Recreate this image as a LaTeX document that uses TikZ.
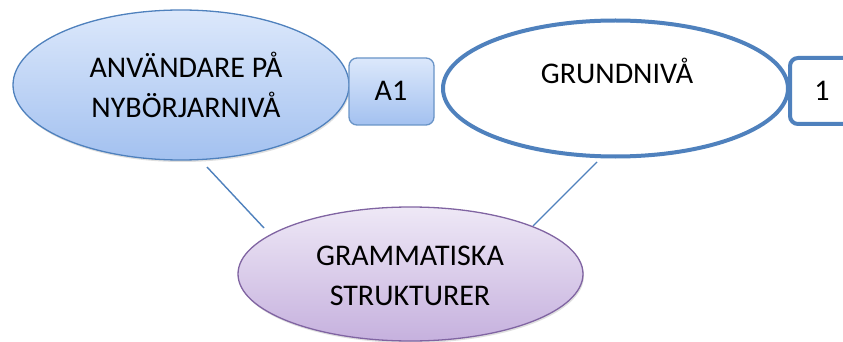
\documentclass[tikz,border=0pt]{standalone}
\usepackage{fontspec}
\setmainfont{Carlito}
\usetikzlibrary{shapes.geometric,shadows}
\definecolor{edgeblue}{HTML}{4F81BD}
\definecolor{bluetop}{HTML}{DCE8FB}
\definecolor{bluebot}{HTML}{A3C1F0}
\definecolor{purptop}{HTML}{EEE8F6}
\definecolor{purpbot}{HTML}{C6B1DE}
\definecolor{purpedge}{HTML}{8064A2}
\tikzset{
  lbl/.style={font=\fontsize{30}{40}\selectfont, align=center, text=black},
  oval/.style={ellipse, inner sep=0pt},
  blueoval/.style={oval, draw=edgeblue, line width=1.3pt, top color=bluetop, bottom color=bluebot,
     drop shadow={shadow xshift=1pt, shadow yshift=-2pt, opacity=0.25}},
  whiteoval/.style={oval, draw=edgeblue, line width=4pt, fill=white},
  purpoval/.style={oval, draw=purpedge, line width=1.3pt, top color=purptop, bottom color=purpbot,
     drop shadow={shadow xshift=1pt, shadow yshift=-2pt, opacity=0.25}},
  tagbox/.style={rectangle, rounded corners=8pt, inner sep=0pt},
  connector/.style={draw=edgeblue, line width=1.4pt}
}
\begin{document}
\begin{tikzpicture}[x=1pt, y=-1pt]
\useasboundingbox (0,0) rectangle (843,342);
\clip (0,0) rectangle (843,342);
\fill[white] (0,0) rectangle (843,342);

% connectors
\coordinate (c1a) at (207,167);
\coordinate (c1b) at (264,228);
\coordinate (c2a) at (597,162);
\coordinate (c2b) at (533,226);
\draw[connector] (c1a) -- (c1b);
\draw[connector] (c2a) -- (c2b);

% left group
\node[blueoval, minimum width=336pt, minimum height=150pt] (user) at (181,85) {};
\node[lbl] (usertext) at (186,85) {ANVÄNDARE PÅ\\NYBÖRJARNIVÅ};
\node[tagbox, draw=edgeblue!85, line width=1.3pt, top color=bluetop, bottom color=bluebot,
      minimum width=85pt, minimum height=67pt] (a1) at (391.5,91.5) {};
\node[lbl] (a1text) at (391,91) {A1};

% right group
\node[whiteoval, minimum width=345pt, minimum height=136pt] (grund) at (615.5,88.5) {};
\node[lbl] (grundtext) at (617,71) {GRUNDNIVÅ};
\node[tagbox, draw=edgeblue, line width=4pt, fill=white,
      minimum width=90pt, minimum height=66pt] (one) at (835,91) {};
\node[lbl] (onetext) at (822,91) {1};

% bottom
\node[purpoval, minimum width=345pt, minimum height=134pt] (gram) at (410.5,274) {};
\node[lbl] (gramtext) at (410,276) {GRAMMATISKA\\STRUKTURER};
\end{tikzpicture}
\end{document}
